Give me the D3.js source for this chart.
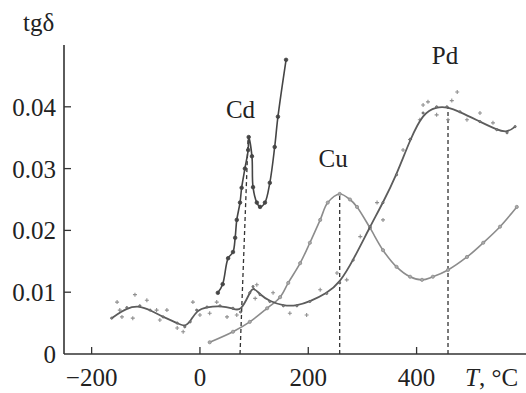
<!DOCTYPE html>
<html>
<head>
<meta charset="utf-8">
<script src="https://cdn.jsdelivr.net/npm/d3@7"></script>
<style>
  html, body { margin: 0; padding: 0; background: #fff; }
  svg { display: block; }
  text { font-family: "Liberation Serif", "DejaVu Serif", serif; fill: #222; }
</style>
</head>
<body>
<svg id="chart" width="526" height="393"></svg>
<script>
// Dielectric loss tangent vs temperature for Cd-, Cu- and Pd-doped samples
const xTicks = [-200, 0, 200, 400];
const yTicks = [0, 0.01, 0.02, 0.03, 0.04];
const yTickLabels = ["0", "0.01", "0.02", "0.03", "0.04"];

// Cd sample: sharp peak then steep rise
const cdT = [33, 42, 52, 61, 65, 68, 74, 77, 83, 89, 90, 96, 98, 105, 111, 120, 129, 138, 144, 159];
const cdV = [0.0099, 0.0113, 0.0155, 0.0165, 0.0188, 0.0217, 0.0245, 0.0269, 0.030, 0.033, 0.0351, 0.032, 0.027, 0.0245, 0.0238, 0.0245, 0.0277, 0.0335, 0.0384, 0.0476];

// Cu sample: peak near 258 °C, minimum near 410 °C
const cuT = [18, 61, 92, 124, 148, 163, 185, 203, 222, 236, 258, 277, 290, 314, 338, 363, 388, 410, 430, 458, 493, 523, 554, 585];
const cuV = [0.0019, 0.0036, 0.0052, 0.0074, 0.0092, 0.0115, 0.0147, 0.018, 0.0217, 0.0245, 0.0259, 0.025, 0.0238, 0.0204, 0.0168, 0.0141, 0.0125, 0.012, 0.0125, 0.0136, 0.0157, 0.018, 0.0206, 0.0238];

// Pd sample: smoothed fit across the whole range
const pdT = [-163, -135, -111, -92, -68, -42, -28, -18, -6, 13, 37, 61, 75, 92, 98, 111, 129, 154, 179, 203, 234, 258, 283, 314, 338, 363, 388, 412, 437, 456, 480, 517, 548, 567, 582];
const pdV = [0.0058, 0.0075, 0.0078, 0.0071, 0.006, 0.005, 0.0044, 0.0052, 0.0071, 0.0076, 0.0078, 0.0074, 0.0068, 0.0099, 0.0109, 0.0096, 0.0085, 0.0078, 0.0078, 0.0085, 0.0098, 0.0115, 0.0152, 0.0206, 0.0245, 0.029, 0.0347, 0.039, 0.040, 0.040, 0.0392, 0.0376, 0.0363, 0.0358, 0.0368];

// Pd sample: individual measured points scattered around the fit
const pdScatterT = [-153, -148, -144, -124, -120, -98, -80, -74, -61, -42, -31, -13, 0, 18, 31, 50, 68, 102, 105, 135, 166, 197, 222, 253, 271, 296, 327, 338, 375, 388, 406, 412, 421, 437, 458, 465, 475, 493, 517, 541];
const pdScatterV = [0.0084, 0.0071, 0.006, 0.0058, 0.0096, 0.0087, 0.0071, 0.0055, 0.0071, 0.0042, 0.0036, 0.0084, 0.0063, 0.0066, 0.0084, 0.006, 0.0063, 0.009, 0.0112, 0.0099, 0.0066, 0.0063, 0.0104, 0.0131, 0.012, 0.019, 0.0245, 0.0217, 0.033, 0.0347, 0.0379, 0.0403, 0.0408, 0.0387, 0.0379, 0.041, 0.0424, 0.0379, 0.039, 0.0374];

// Peak markers: dashed drop lines from each maximum to the axis
const peakNames = ["Cd", "Cu", "Pd"];
const peakBaseT = [74, 258, 458];
const peakTopT = [89, 258, 458];
const peakTopV = [0.0351, 0.0259, 0.040];

// Curve labels
const labelNames = ["Cd", "Cu", "Pd"];
const labelT = [48, 219, 428];
const labelV = [0.0382, 0.0303, 0.0469];

const svg = d3.select("#chart");
const x = d3.scaleLinear().domain([-251, 602]).range([64, 526]);
const y = d3.scaleLinear().domain([0, 0.05]).range([354, 45]);

const zip = (a, b) => a.map((d, i) => [d, b[i]]);
const sharpLine = d3.line().x(d => x(d[0])).y(d => y(d[1])).curve(d3.curveCatmullRom.alpha(0.5));
const smoothLine = d3.line().x(d => x(d[0])).y(d => y(d[1])).curve(d3.curveBasis);

// dashed drop lines
svg.append("g").selectAll("line").data(peakNames).join("line")
  .attr("x1", (d, i) => x(peakBaseT[i])).attr("y1", y(0))
  .attr("x2", (d, i) => x(peakTopT[i])).attr("y2", (d, i) => y(peakTopV[i]))
  .attr("stroke", "#333").attr("stroke-width", 1.3).attr("stroke-dasharray", "4,3");

// Pd scatter (small crosses)
const scat = svg.append("g").attr("stroke", "#8f8f8f").attr("stroke-width", 1.1);
zip(pdScatterT, pdScatterV).forEach(([t, v]) => {
  const cx = x(t), cy = y(v);
  scat.append("path").attr("d", `M${cx-2},${cy}H${cx+2}M${cx},${cy-2}V${cy+2}`);
});

function drawSeries(T, V, gen, color, width, r, fillMarker) {
  const data = zip(T, V);
  svg.append("path").datum(data).attr("d", gen)
    .attr("fill", "none").attr("stroke", color).attr("stroke-width", width);
  svg.append("g").selectAll("circle").data(data).join("circle")
    .attr("cx", d => x(d[0])).attr("cy", d => y(d[1])).attr("r", r)
    .attr("fill", fillMarker).attr("stroke", color).attr("stroke-width", 0.8);
}

drawSeries(cuT, cuV, sharpLine, "#8c8c8c", 1.6, 1.6, "#aaa");
drawSeries(pdT, pdV, smoothLine, "#5c5c5c", 1.8, 1.1, "#8a8a8a");
drawSeries(cdT, cdV, sharpLine, "#454545", 1.6, 1.8, "#454545");

// axes
const axisColor = "#333";
svg.append("line").attr("x1", x(-251)).attr("x2", 526).attr("y1", y(0)).attr("y2", y(0))
  .attr("stroke", axisColor).attr("stroke-width", 1.6);
svg.append("line").attr("x1", x(-251)).attr("x2", x(-251)).attr("y1", y(0)).attr("y2", y(0.05))
  .attr("stroke", axisColor).attr("stroke-width", 1.6);

svg.append("g").selectAll("line").data(xTicks).join("line")
  .attr("x1", d => x(d)).attr("x2", d => x(d)).attr("y1", y(0)).attr("y2", y(0) - 7)
  .attr("stroke", axisColor).attr("stroke-width", 1.3);
svg.append("g").selectAll("line").data(yTicks.slice(1)).join("line")
  .attr("x1", x(-251)).attr("x2", x(-251) + 7).attr("y1", d => y(d)).attr("y2", d => y(d))
  .attr("stroke", axisColor).attr("stroke-width", 1.3);

svg.append("g").selectAll("text").data(xTicks).join("text")
  .attr("x", d => x(d)).attr("y", 386).attr("text-anchor", "middle")
  .attr("font-size", 25).text(d => d < 0 ? "\u2212" + Math.abs(d) : d);
svg.append("g").selectAll("text").data(yTicks).join("text")
  .attr("x", 56).attr("y", d => y(d) + 9).attr("text-anchor", "end")
  .attr("font-size", 25).text((d, i) => yTickLabels[i]);

// axis titles
svg.append("text").attr("x", 23).attr("y", 31).attr("font-size", 25).text("tgδ");
const xt = svg.append("text").attr("x", 465).attr("y", 386).attr("font-size", 25);
xt.append("tspan").attr("font-style", "italic").text("T");
xt.append("tspan").text(", °C");

// curve labels
svg.append("g").selectAll("text").data(labelNames).join("text")
  .attr("x", (d, i) => x(labelT[i])).attr("y", (d, i) => y(labelV[i]))
  .attr("font-size", 25).text(d => d);
</script>
</body>
</html>
